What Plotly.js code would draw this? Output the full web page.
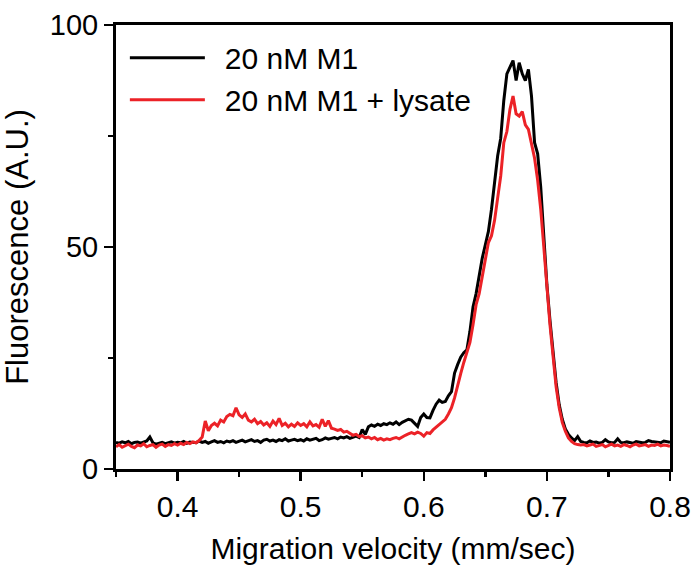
<!DOCTYPE html>
<html>
<head>
<meta charset="utf-8">
<script src="https://cdn.plot.ly/plotly-3.0.1.min.js"></script>
<style>html,body{margin:0;padding:0;background:#fff;}#chart{width:695px;height:567px;}</style>
</head>
<body>
<div id="chart"></div>
<script>
// x sampling: start and step of the velocity grid (mm/sec)
const xStart = 0.35;
const xStep = 0.0025;

const seriesNames = ["20 nM M1", "20 nM M1 + lysate"];

// 20 nM M1 (black), 181 samples from 0.35 to 0.80
const m1 = [
  6.0,5.8,6.1,5.9,6.2,5.7,6.0,6.1,5.8,6.0,6.3,7.2,5.9,5.6,5.8,6.0,5.7,5.9,6.1,5.8,
  6.0,5.9,6.2,5.8,6.1,6.0,5.9,6.3,6.0,6.2,5.8,6.1,6.4,6.0,6.2,5.9,6.3,6.1,6.4,6.0,
  6.2,6.5,6.1,6.3,6.6,6.2,6.4,6.0,6.5,6.7,6.3,6.5,6.2,6.6,6.4,6.8,6.3,6.5,6.7,6.4,
  6.6,6.3,6.8,6.5,6.7,6.9,6.4,6.6,7.0,6.7,6.9,7.1,6.8,7.2,7.0,7.3,6.9,7.2,7.4,7.1,
  8.9,7.8,9.5,9.9,9.6,10.1,9.8,10.2,10.0,10.4,10.1,10.6,10.0,10.5,10.9,11.2,11.0,10.4,9.6,11.6,
  12.4,11.6,11.5,13.2,14.6,15.5,15.0,15.2,16.5,17.4,21.6,23.5,25.2,26.2,26.8,31.0,36.5,39.5,44.0,47.5,
  50.5,53.5,58.5,64.5,70.5,74.5,83.0,89.0,90.5,92.0,87.5,91.5,89.0,87.5,90.0,84.0,73.5,71.0,63.5,51.0,
  41.5,33.5,26.5,19.5,14.5,11.2,9.0,7.8,7.0,6.4,7.3,
  6.2,6.0,5.9,6.3,6.0,6.1,5.8,6.0,6.6,6.1,5.9,6.0,6.8,6.0,5.9,6.1,6.0,5.8,6.2,6.1,5.9,6.0,6.4,6.2,6.1,6.0,5.9,6.3,6.1,6.0
];

// 20 nM M1 + lysate (red), same sampling
const m1Lysate = [
  5.0,5.5,4.9,5.3,5.6,5.1,4.8,5.4,5.2,5.7,5.0,5.3,5.5,4.9,5.4,5.6,5.1,5.5,5.3,5.7,
  5.4,5.8,5.5,6.0,5.7,6.1,5.9,6.4,7.2,10.8,8.6,9.8,10.3,9.7,11.0,10.6,11.8,12.3,12.0,13.8,
  12.2,11.6,12.4,11.0,10.6,11.2,10.2,10.7,9.9,10.4,9.6,10.8,10.0,11.4,9.8,10.3,9.5,10.1,9.6,10.4,
  9.8,10.2,9.5,10.6,9.7,10.0,9.4,11.2,9.6,10.9,9.2,9.0,8.7,8.9,8.3,8.5,8.0,7.6,7.8,7.3,
  7.5,7.0,7.2,6.8,7.1,6.6,6.9,6.5,6.8,6.6,6.9,7.1,6.8,7.3,7.6,7.9,8.2,7.9,8.3,8.0,
  7.4,8.2,8.0,8.8,9.4,9.9,10.4,11.2,12.4,13.8,16.0,19.0,21.5,24.0,26.0,28.5,32.5,37.0,39.5,43.5,
  47.0,51.0,52.5,56.0,61.0,66.0,73.5,76.0,81.0,84.0,80.0,79.5,80.5,77.5,76.5,73.5,70.0,65.0,58.5,50.0,
  40.5,32.5,25.5,18.5,13.8,10.5,8.5,7.0,6.2,5.7,5.5,
  5.4,5.5,5.2,5.4,5.6,5.1,5.3,5.5,5.0,5.3,5.6,5.2,5.4,5.1,5.5,5.3,5.0,5.4,5.6,5.2,5.3,5.5,5.1,5.4,5.3,5.6,5.2,5.4,5.3,5.1
];

const FONT = "Liberation Sans, Arial, sans-serif";
const LEGEND_GAP = "\u2002"; // visual gap between legend line and label

const traces = [
  {y: m1, x0: xStart, dx: xStep, type: "scatter", mode: "lines", name: LEGEND_GAP + seriesNames[0],
   line: {color: "#000000", width: 3}},
  {y: m1Lysate, x0: xStart, dx: xStep, type: "scatter", mode: "lines", name: LEGEND_GAP + seriesNames[1],
   line: {color: "#ec2227", width: 3}}
];

const layout = {
  width: 695, height: 567,
  margin: {l: 116, r: 25, t: 25, b: 98, pad: 0},
  paper_bgcolor: "#fff", plot_bgcolor: "#fff",
  font: {family: FONT, color: "#000", size: 30},
  showlegend: true,
  legend: {x: 0.016, y: 0.985, xanchor: "left", yanchor: "top", bgcolor: "rgba(0,0,0,0)",
           font: {family: FONT, size: 30, color: "#000"}, itemwidth: 75, tracegroupgap: 0},
  xaxis: {
    range: [0.35, 0.8], tick0: 0, dtick: 0.1, tickformat: ".1f",
    ticks: "outside", ticklen: 9, tickwidth: 2.5, tickcolor: "#000",
    showline: true, linecolor: "#000", linewidth: 3, mirror: true,
    showgrid: false, zeroline: false,
    tickfont: {family: FONT, size: 30},
    minor: {dtick: 0.05, ticks: "outside", ticklen: 5, tickwidth: 2.5, tickcolor: "#000", showgrid: false},
    title: {text: "Migration velocity (mm/sec)", font: {family: FONT, size: 30}, standoff: 16}
  },
  yaxis: {
    range: [0, 100], tick0: 0, dtick: 50,
    ticks: "outside", ticklen: 9, tickwidth: 2.5, tickcolor: "#000",
    showline: true, linecolor: "#000", linewidth: 3, mirror: true,
    showgrid: false, zeroline: false,
    tickfont: {family: FONT, size: 29},
    minor: {dtick: 25, ticks: "outside", ticklen: 5, tickwidth: 2.5, tickcolor: "#000", showgrid: false},
    title: {text: "Fluorescence (A.U.)", font: {family: FONT, size: 31}, standoff: 12}
  }
};

Plotly.newPlot("chart", traces, layout, {displayModeBar: false, staticPlot: true});
</script>
</body>
</html>
